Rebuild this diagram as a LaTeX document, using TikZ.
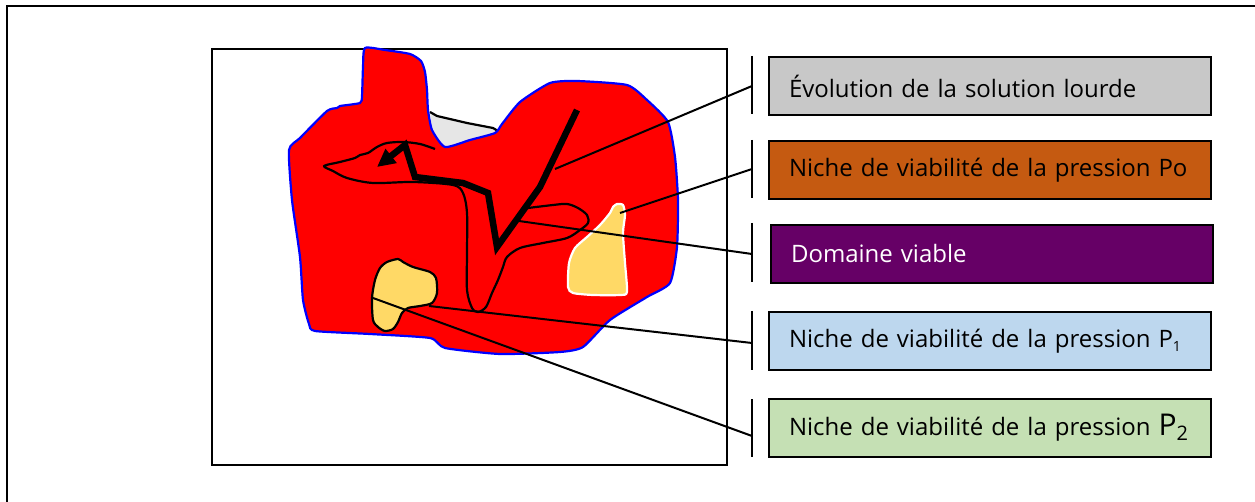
\documentclass[tikz,border=0pt]{standalone}
\usepackage{fontspec}
\setmainfont{Open Sans}
\usetikzlibrary{arrows.meta}
\definecolor{redzone}{RGB}{255,0,0}
\definecolor{rimblue}{RGB}{0,0,255}
\definecolor{nichey}{RGB}{255,217,102}
\definecolor{greyzone}{RGB}{230,230,230}
\definecolor{boxgrey}{RGB}{200,200,200}
\definecolor{boxorange}{RGB}{197,90,17}
\definecolor{boxpurple}{RGB}{102,0,102}
\definecolor{boxblue}{RGB}{189,215,238}
\definecolor{boxgreen}{RGB}{197,224,180}
\tikzset{
  legendbox/.style={draw=black, line width=2pt, minimum width=442pt, minimum height=58pt,
    inner sep=0pt, text width=402pt, align=left, font=\fontsize{24}{26}\selectfont},
  bar/.style={line width=2.8pt},
  leader/.style={line width=2pt},
  outline/.style={line width=2.2pt, line join=round},
  trail/.style={line width=6.5pt, line join=miter, -{Triangle[length=18pt,width=17pt]}}
}
\begin{document}
\begin{tikzpicture}[x=1pt,y=-1pt]
\useasboundingbox (0,0) rectangle (1255,502);
% page frame
\draw[line width=2.8pt] (7,502) -- (7,6) -- (1255,6);
% state space
\draw[line width=2.2pt] (212,49) rectangle (727,465);

% grey patch behind the viable domain
\fill[greyzone] (430,112) -- (437,116) -- (467,123) -- (493,128) -- (497,133) -- (445,147) -- (432,130) -- cycle;
\draw[outline] (430,112) -- (437,116) -- (467,123) -- (493,128) -- (498,131);

% red domain with blue rim
\draw[rimblue, fill=redzone, line width=2.2pt] plot[smooth cycle, tension=0.35] coordinates {
  (365,48) (385,50) (410,54) (421,61) (425,72) (427,90) (428,110) (432,130) (445,147)
  (470,140) (495,133) (502,124) (520,102) (550,83) (577,81) (627,85) (647,100) (668,122)
  (675,157) (678,200) (677,247) (670,283) (647,297) (610,320) (583,347) (560,352)
  (500,354) (445,348) (430,338) (370,334) (315,331) (309,324) (303,300) (300,257)
  (292,200) (289,150) (300,138) (327,111) (337,108) (340,106) (360,103) (362,96) (363,67)};

% inner viable outline
\draw[outline] plot[smooth, tension=0.5] coordinates {
  (435,149) (420,144) (403,142) (387,143) (377,147) (368,153) (360,155) (355,158)
  (340,162) (324,166) (333,171) (347,178) (373,183) (413,182) (453,185) (463,193)
  (467,213) (467,253) (467,290) (472,308) (478,312) (486,307) (492,293) (498,280)
  (503,267) (507,257) (520,248) (543,243) (567,238) (580,230) (588,223) (587,215)
  (578,208) (567,204) (553,205) (528,208)};

% niche of pressure Po
\draw[white, fill=nichey, line width=2.2pt] plot[smooth cycle, tension=0.4] coordinates {
  (613,207) (617,204) (623,205) (625,215) (623,233) (625,263) (627,292) (620,295)
  (593,295) (573,293) (568,287) (569,263) (575,248) (587,237) (600,225) (610,213)};

% niche of pressure P1
\draw[black, fill=nichey, outline] plot[smooth cycle, tension=0.45] coordinates {
  (380,268) (387,262) (398,259) (403,262) (413,267) (430,272) (436,278) (437,293)
  (432,303) (420,306) (408,308) (402,313) (398,322) (393,329) (385,331) (378,327)
  (373,320) (372,298) (375,280)};

% trajectory of the heavy solution
\draw[trail] (577,110) -- (540,187) -- (497,247) -- (488,193) -- (463,183) -- (415,177) -- (405,145) -- (377,167);

% legend boxes
\node[legendbox, fill=boxgrey, anchor=north west] (b1) at (768,56) {\'Evolution de la solution lourde};
\node[legendbox, fill=boxorange, anchor=north west] (b2) at (768,140) {Niche de viabilit\'e de la pression Po};
\node[legendbox, fill=boxpurple, text=white, anchor=north west] (b3) at (770,224) {Domaine viable};
\node[legendbox, fill=boxblue, anchor=north west] (b4) at (768,311) {Niche de viabilit\'e de la pression P\textsubscript{\fontsize{14}{14}\selectfont1}};
\node[legendbox, fill=boxgreen, anchor=north west] (b5) at (768,398) {Niche de viabilit\'e de la pression {\fontsize{30}{30}\selectfont P}\raisebox{-5pt}{\fontsize{20}{20}\selectfont 2}};

% bars in front of the legend
\draw[bar] (752,56) -- (752,114);
\draw[bar] (752,140) -- (752,198);
\draw[bar] (752,223) -- (752,282);
\draw[bar] (752,311) -- (752,370);
\draw[bar] (752,399) -- (752,457);

% leader ends
\coordinate (t1) at (752,86);
\coordinate (t2) at (752,169);
\coordinate (t3) at (752,254);
\coordinate (t4) at (752,343);
\coordinate (t5) at (752,436);
\coordinate (s1) at (555,169);
\coordinate (s2) at (620,213);
\coordinate (s3) at (519,221);
\coordinate (s4) at (429,306);
\coordinate (s5) at (373,298);

\draw[leader] (s1) -- (t1);
\draw[leader] (s2) -- (t2);
\draw[leader] (s3) -- (t3);
\draw[leader] (s4) -- (t4);
\draw[leader] (s5) -- (t5);
\end{tikzpicture}
\end{document}
